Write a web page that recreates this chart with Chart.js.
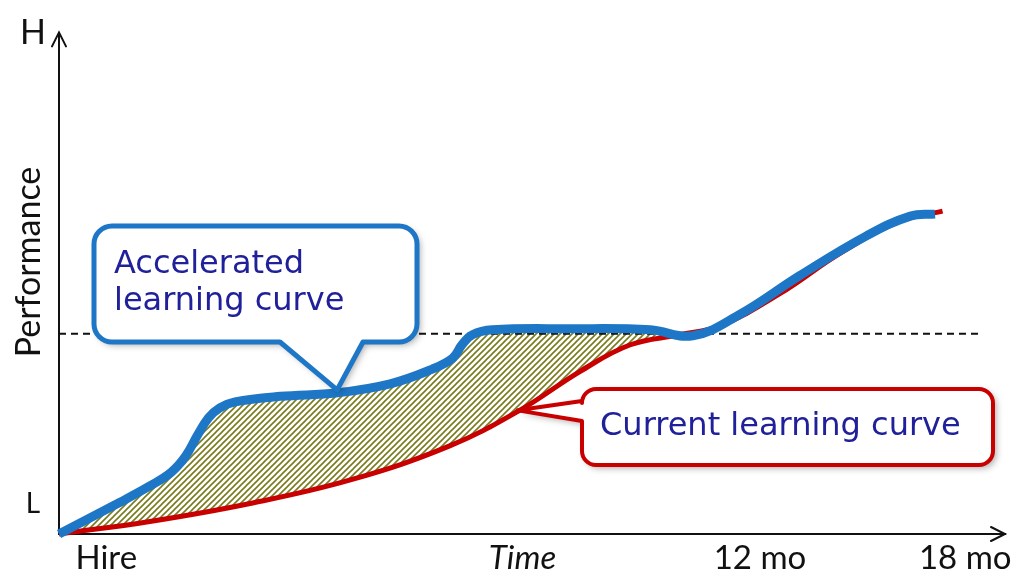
<!DOCTYPE html>
<html>
<head>
<meta charset="utf-8">
<script src="https://cdn.jsdelivr.net/npm/chart.js@4.4.1/dist/chart.umd.min.js"></script>
<style>
  html, body { margin: 0; padding: 0; background: #ffffff; }
  #wrap { width: 1034px; height: 577px; position: relative; }
</style>
</head>
<body>
<div id="wrap"><canvas id="c" width="1034" height="577"></canvas></div>
<script>
// Time runs 0–100 along the x axis, performance 0 (L) – 100 (H) on the y axis.
const acceleratedX = [0, 6.4, 9.6, 11.9, 13.4, 14.6, 15.8, 17.0, 18.6, 23.4, 29.4, 35.0, 39.4, 41.6, 42.6, 43.7, 45.8, 54.0, 62.5, 67.0, 72.0, 78.3, 85.4, 90.0, 92.6];
const acceleratedY = [0, 6.3, 9.6, 12.4, 15.6, 19.6, 23.2, 25.2, 26.4, 27.5, 28.2, 30.0, 32.9, 35.1, 37.8, 39.8, 40.8, 41.0, 40.8, 39.6, 43.9, 51.6, 59.6, 63.5, 63.9];

const currentX = [0, 9.6, 20.2, 30.8, 41.3, 48.7, 55.1, 60.4, 65.6, 69.9, 76.2, 82.6, 88.9, 93.4];
const currentY = [0, 2.5, 6.1, 10.8, 17.6, 24.7, 32.5, 37.8, 39.8, 41.6, 48.0, 56.1, 62.5, 64.5];

// Expected performance level (dashed reference line)
const targetLevel = 40;
const targetSpan = [0, 97.4];

const xTickValues = [5, 49, 74.1, 95.8];
const xTickLabels = ['Hire', 'Time', '12 mo', '18 mo'];
const yTickValues = [5.9, 100];
const yTickLabels = ['L', 'H'];

// Points the two callouts point at (indices into the curves above)
const acceleratedCalloutPoint = 10;
const currentCalloutPoint = 5;

const BLUE = '#1e77c6';
const RED = '#c80000';
const TEXT_BLUE = '#20209a';
const LABEL_FONT = 'Lato, "Liberation Sans", sans-serif';
const CALLOUT_FONT = '"DejaVu Sans", sans-serif';

function toPoints(xs, ys) {
  return xs.map((x, i) => ({ x: x, y: ys[i] }));
}

// Olive diagonal hatching for the gap between the curves
function hatchPattern() {
  const s = 6;
  const c = document.createElement('canvas');
  c.width = s; c.height = s;
  const g = c.getContext('2d');
  g.fillStyle = '#ffffff';
  g.fillRect(0, 0, s, s);
  g.strokeStyle = '#7a7a1c';
  g.lineWidth = 1.6;
  g.beginPath();
  g.moveTo(-1, s + 1); g.lineTo(s + 1, -1);
  g.moveTo(-1, 1); g.lineTo(1, -1);
  g.moveTo(s - 1, s + 1); g.lineTo(s + 1, s - 1);
  g.stroke();
  return g.createPattern(c, 'repeat');
}

function bubbleBelow(ctx, L, T, R, B, r, baseLeft, baseRight, tip) {
  ctx.beginPath();
  ctx.moveTo(L + r, T);
  ctx.lineTo(R - r, T);
  ctx.arcTo(R, T, R, T + r, r);
  ctx.lineTo(R, B - r);
  ctx.arcTo(R, B, R - r, B, r);
  ctx.lineTo(baseRight, B);
  ctx.lineTo(tip.x, tip.y);
  ctx.lineTo(baseLeft, B);
  ctx.lineTo(L + r, B);
  ctx.arcTo(L, B, L, B - r, r);
  ctx.lineTo(L, T + r);
  ctx.arcTo(L, T, L + r, T, r);
  ctx.closePath();
}

function bubbleLeft(ctx, L, T, R, B, r, baseTop, baseBottom, tip) {
  ctx.beginPath();
  ctx.moveTo(L + r, T);
  ctx.lineTo(R - r, T);
  ctx.arcTo(R, T, R, T + r, r);
  ctx.lineTo(R, B - r);
  ctx.arcTo(R, B, R - r, B, r);
  ctx.lineTo(L + r, B);
  ctx.arcTo(L, B, L, B - r, r);
  ctx.lineTo(L, baseBottom);
  ctx.lineTo(tip.x, tip.y);
  ctx.lineTo(L, baseTop);
  ctx.lineTo(L, T + r);
  ctx.arcTo(L, T, L + r, T, r);
  ctx.closePath();
}

function paintBubble(ctx, stroke, width) {
  ctx.save();
  ctx.shadowColor = 'rgba(0,0,0,0.35)';
  ctx.shadowBlur = 7;
  ctx.shadowOffsetX = 3;
  ctx.shadowOffsetY = 3;
  ctx.fillStyle = '#ffffff';
  ctx.fill();
  ctx.restore();
  ctx.save();
  ctx.lineJoin = 'round';
  ctx.strokeStyle = stroke;
  ctx.lineWidth = width;
  ctx.stroke();
  ctx.restore();
}

const decorations = {
  id: 'decorations',
  afterDraw(chart) {
    const ctx = chart.ctx;
    const area = chart.chartArea;

    // Arrow heads on both axes
    ctx.save();
    ctx.strokeStyle = '#111111';
    ctx.lineWidth = 2;
    ctx.lineCap = 'round';
    ctx.beginPath();
    ctx.moveTo(area.left, area.top - 1);
    ctx.lineTo(area.left, area.top + 4);
    ctx.moveTo(area.left - 7, area.top + 13);
    ctx.lineTo(area.left, area.top - 1);
    ctx.lineTo(area.left + 7, area.top + 13);
    ctx.moveTo(area.right - 14, area.bottom - 7);
    ctx.lineTo(area.right, area.bottom);
    ctx.lineTo(area.right - 14, area.bottom + 7);
    ctx.stroke();
    ctx.restore();

    // Vertical axis caption
    ctx.save();
    ctx.translate(40, 262);
    ctx.rotate(-Math.PI / 2);
    ctx.font = '34px ' + LABEL_FONT;
    ctx.fillStyle = '#111111';
    ctx.textAlign = 'center';
    ctx.textBaseline = 'alphabetic';
    ctx.fillText('Performance', 0, 0);
    ctx.restore();

    // Callout: accelerated learning curve
    const blueTip = chart.getDatasetMeta(0).data[acceleratedCalloutPoint];
    bubbleBelow(ctx, 94, 226, 417, 342, 18, 280, 363, { x: blueTip.x, y: blueTip.y - 3 });
    paintBubble(ctx, BLUE, 5);

    // Callout: current learning curve
    const redTip = chart.getDatasetMeta(1).data[currentCalloutPoint];
    bubbleLeft(ctx, 582, 389, 993, 465, 14, 401, 421, { x: redTip.x - 2, y: redTip.y });
    paintBubble(ctx, RED, 4);

    ctx.save();
    ctx.fillStyle = TEXT_BLUE;
    ctx.font = '32px ' + CALLOUT_FONT;
    ctx.textAlign = 'left';
    ctx.textBaseline = 'alphabetic';
    ctx.fillText('Accelerated', 114, 273);
    ctx.fillText('learning curve', 114, 310);
    ctx.fillText('Current learning curve', 600, 435);
    ctx.restore();
  }
};

const ctx = document.getElementById('c').getContext('2d');

new Chart(ctx, {
  type: 'line',
  data: {
    datasets: [
      {
        label: 'Accelerated learning curve',
        data: toPoints(acceleratedX, acceleratedY),
        borderColor: BLUE,
        borderWidth: 9,
        borderJoinStyle: 'round',
        tension: 0.4,
        pointRadius: 0,
        fill: 1,
        backgroundColor: hatchPattern(),
        clip: 12
      },
      {
        label: 'Current learning curve',
        data: toPoints(currentX, currentY),
        borderColor: RED,
        borderWidth: 5,
        borderJoinStyle: 'round',
        tension: 0.4,
        pointRadius: 0,
        fill: false,
        clip: 12
      },
      {
        label: 'Target performance',
        data: targetSpan.map(x => ({ x: x, y: targetLevel })),
        borderColor: '#111111',
        borderWidth: 1.8,
        borderDash: [7, 5],
        pointRadius: 0,
        fill: false
      }
    ]
  },
  options: {
    responsive: false,
    animation: false,
    devicePixelRatio: 1,
    layout: { padding: { left: 0, top: 24, right: 29, bottom: 0 } },
    plugins: {
      legend: { display: false },
      tooltip: { enabled: false },
      filler: { drawTime: 'beforeDatasetsDraw' }
    },
    scales: {
      x: {
        type: 'linear',
        min: 0,
        max: 100,
        grid: { display: false, drawTicks: false },
        border: { display: true, color: '#111111', width: 2 },
        afterBuildTicks: (scale) => { scale.ticks = xTickValues.map(v => ({ value: v })); },
        afterFit: (scale) => { scale.height = 43; },
        ticks: {
          autoSkip: false,
          maxRotation: 0,
          padding: 5,
          color: '#111111',
          font: (c) => ({
            family: LABEL_FONT,
            size: 33,
            style: (c.tick && c.tick.value === xTickValues[1]) ? 'italic' : 'normal'
          }),
          callback: (v) => {
            const i = xTickValues.indexOf(v);
            return i >= 0 ? xTickLabels[i] : '';
          }
        }
      },
      y: {
        type: 'linear',
        min: 0,
        max: 100,
        grid: { display: false, drawTicks: false },
        border: { display: true, color: '#111111', width: 2 },
        afterBuildTicks: (scale) => { scale.ticks = yTickValues.map(v => ({ value: v })); },
        afterFit: (scale) => { scale.width = 59; },
        ticks: {
          autoSkip: false,
          crossAlign: 'center',
          padding: 13,
          color: '#111111',
          font: (c) => ({
            family: LABEL_FONT,
            size: (c.tick && c.tick.value === yTickValues[1]) ? 34 : 28
          }),
          callback: (v) => {
            const i = yTickValues.indexOf(v);
            return i >= 0 ? yTickLabels[i] : '';
          }
        }
      }
    }
  },
  plugins: [decorations]
});
</script>
</body>
</html>
